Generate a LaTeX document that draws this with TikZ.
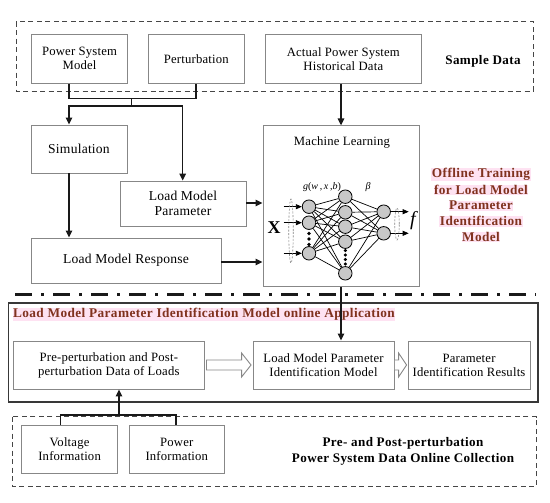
\documentclass[tikz,border=0pt]{standalone}
\usepackage{fontspec}
\setmainfont{Liberation Serif}
\newfontfamily\boldsp[LetterSpace=3]{Liberation Serif}
\newfontfamily\regsp[LetterSpace=1.5]{Liberation Serif}
\usetikzlibrary{arrows.meta,shapes.geometric,calc}
\definecolor{boxgray}{RGB}{135,135,135}
\definecolor{conncol}{RGB}{25,25,25}
\definecolor{dashcol}{RGB}{70,70,70}
\definecolor{redtxt}{RGB}{128,50,30}
\definecolor{pinkbg}{RGB}{254,226,242}
\definecolor{neurfill}{RGB}{200,200,200}
\tikzset{
  box/.style={draw=boxgray, line width=0.9pt, fill=white, align=center, inner sep=1pt,
    font=\regsp\fontsize{12.7}{14}\selectfont},
  bigbox/.style={box, font=\regsp\fontsize{13.6}{15}\selectfont},
  dashbox/.style={draw=dashcol, line width=0.9pt, dash pattern=on 5pt off 3.5pt},
  conn/.style={draw=conncol, line width=1.4pt},
  arr/.style={conn, -{Triangle[length=7pt,width=6.5pt]}},
  hollow/.style={draw=boxgray, line width=0.9pt, fill=white, line join=miter},
  boldlbl/.style={font=\boldsp\fontsize{13.1}{16.5}\selectfont\bfseries, align=center, inner sep=0pt},
  redlbl/.style={font=\boldsp\fontsize{13.3}{15.5}\selectfont\bfseries, text=redtxt, fill=pinkbg, inner sep=0.6pt},
  neuron/.style={circle, draw=black, line width=0.8pt, fill=neurfill, minimum size=13.5pt, inner sep=0pt},
  nnline/.style={draw=black, line width=0.7pt},
  nnarr/.style={draw=black, line width=0.8pt, -{Triangle[length=6pt,width=5pt]}},
  thindash/.style={ellipse, draw=boxgray, line width=0.6pt, dash pattern=on 2pt off 1.5pt, inner sep=0pt},
}
\begin{document}
\begin{tikzpicture}[x=1pt,y=-1pt]
\useasboundingbox[fill=white] (0,0) rectangle (550,503);

% ---------- Sample data ----------
\draw[dashbox] (16,21.7) rectangle (533.3,91);
\node[box, minimum width=95.6pt, minimum height=49.3pt] (psm) at (79.5,58.7) {Power System\\Model};
\node[box, minimum width=96pt, minimum height=49.3pt] (pert) at (196.3,58.7) {Perturbation};
\node[box, minimum width=156.7pt, minimum height=49.3pt] (act) at (343.3,58.7) {Actual Power System\\Historical Data};
\node[boldlbl] (sdl) at (483,61) {Sample Data};

% ---------- middle ----------
\node[bigbox, minimum width=96pt, minimum height=48pt] (sim) at (79,149) {Simulation};
\node[bigbox, minimum width=126pt, minimum height=45pt] (lmp) at (183,203.5) {Load Model\\Parameter};
\node[bigbox, minimum width=190pt, minimum height=45pt] (lmr) at (126,260.5) {Load Model Response};
\node[box, minimum width=156pt, minimum height=161pt] (ml) at (341,206.3) {};
\node[font=\regsp\fontsize{12.7}{14}\selectfont] (mlt) at (342,142) {Machine Learning};

% offline training label
\node[redlbl] (off1) at (481,174.3) {Offline Training};
\node[redlbl] (off2) at (481,190) {for Load Model};
\node[redlbl] (off3) at (481,205.6) {Parameter};
\node[redlbl] (off4) at (481,221.2) {Identification};
\node[redlbl] (off5) at (481,236.8) {Model};

% connectors top
\coordinate (pl) at (69,98.3);
\coordinate (pr) at (196,98.3);
\coordinate (pm) at (131.7,98.3);
\coordinate (pmb) at (131.7,106);
\coordinate (sl) at (69,106);
\coordinate (sr) at (182.7,106);
\draw[conn] (psm.south -| pl) -- (pl) -- (pr) -- (pert.south -| pr);
\draw[conn] (pm) -- (pmb);
\draw[arr] (pmb) -- (sl) -- (sim.north -| sl);
\draw[arr] (pmb) -- (sr) -- (lmp.north -| sr);
\draw[arr] (act.south -| ml.north) -- (ml.north);
\draw[arr] (sim.south -| sl) -- (lmr.north -| sl);
\coordinate (lmpy) at (246,203);
\coordinate (lmry) at (221,262);
\draw[arr] (lmp.east |- lmpy) -- (ml.west |- lmpy);
\draw[arr] (lmr.east |- lmry) -- (ml.west |- lmry);

% ---------- neural net ----------
\foreach \i/\yy in {1/206.7,2/222.7,3/253.3} \node[neuron] (in\i) at (309,\yy) {};
\foreach \i/\yy in {1/196.7,2/212.3,3/226.7,4/241.7,5/273.3} \node[neuron] (h\i) at (345.3,\yy) {};
\foreach \i/\yy in {1/211.7,2/233.3} \node[neuron] (o\i) at (383.7,\yy) {};
\foreach \i in {1,2,3} \foreach \j in {1,...,5} \draw[nnline] (in\i) -- (h\j);
\foreach \j in {1,...,5} \foreach \k in {1,2} \draw[nnline] (h\j) -- (o\k);
\foreach \yy in {233.5,239,244.5} \fill (309,\yy) circle (1.8pt);
\foreach \yy in {250.5,255,259.5,264} \fill (345.3,\yy) circle (1.7pt);
\foreach \i/\yy in {1/206.7,2/222.7,3/253.3} {
  \coordinate (xi\i) at (283.7,\yy);
  \draw[nnarr] (xi\i) -- (in\i);
}
\foreach \i/\yy in {1/211.7,2/233.3} {
  \coordinate (yo\i) at (408.7,\yy);
  \draw[nnarr] (o\i) -- (yo\i);
}
\node[thindash, minimum width=4.5pt, minimum height=64pt] (ein) at (291,231) {};
\node[thindash, minimum width=4.5pt, minimum height=32pt] (eout) at (397,224) {};
\node[font=\fontsize{18}{18}\selectfont\bfseries, inner sep=0pt] (xl) at (274,228) {X};
\node[font=\fontsize{20}{20}\selectfont\itshape, inner sep=0pt] (fl) at (413,221) {f};
\node[font=\fontsize{10}{10}\selectfont, inner sep=0pt] (gl) at (322,187) {\textit{g}(\textit{w}\,,\,\textit{x}\,,\textit{b})};
\node[font=\fontsize{10}{10}\selectfont\itshape, inner sep=0pt] (bl) at (368,187) {β};

% ---------- separator ----------
\coordinate (dl) at (15,294.5);
\coordinate (dr) at (536,294.5);
\draw[line width=2.2pt, draw=conncol, dash pattern=on 17pt off 9pt on 3pt off 9pt] (dl) -- (dr);

% ---------- online application ----------
\draw[draw=dashcol!80!black, line width=1.1pt] (8.8,303) rectangle (538,402);
\node[redlbl, anchor=west] (apt) at (12.3,314.5) {Load Model Parameter Identification Model online Application};
\node[box, minimum width=190.5pt, minimum height=48pt] (pre) at (108.8,365) {Pre-perturbation and Post-\\perturbation Data of Loads};
\node[box, minimum width=141pt, minimum height=48pt] (lmpim) at (323.5,365) {Load Model Parameter\\Identification Model};
\node[box, minimum width=122pt, minimum height=48pt] (res) at (469,365) {Parameter\\Identification Results};
\draw[arr] (ml.south) -- (ml.south |- lmpim.north);

% hollow arrows
\draw[hollow] ($(pre.east)+(2,-5)$) -- ($(lmpim.west)+(-11,-5)$) -- ($(lmpim.west)+(-11,-12)$)
  -- ($(lmpim.west)+(-1.5,0)$) -- ($(lmpim.west)+(-11,12)$) -- ($(lmpim.west)+(-11,5)$)
  -- ($(pre.east)+(2,5)$) -- cycle;
\draw[hollow] ($(lmpim.east)+(0.5,-5)$) -- ($(res.west)+(-9,-5)$) -- ($(res.west)+(-9,-12)$)
  -- ($(res.west)+(-1,0)$) -- ($(res.west)+(-9,12)$) -- ($(res.west)+(-9,5)$)
  -- ($(lmpim.east)+(0.5,5)$);

% ---------- bottom collection ----------
\draw[dashbox] (12.3,416.5) rectangle (536.6,486);
\node[box, minimum width=95.8pt, minimum height=48pt] (volt) at (69.6,449) {Voltage\\Information};
\node[box, minimum width=95.5pt, minimum height=48pt] (pow) at (176.8,449) {Power\\Information};
\node[boldlbl] (colt) at (403,451.5) {Pre- and Post-perturbation\\Power System Data Online Collection};
\coordinate (bl1) at (60.3,415);
\coordinate (br1) at (176,415);
\coordinate (bm1) at (119,415);
\draw[conn] (volt.north -| bl1) -- (bl1) -- (br1) -- (pow.north -| br1);
\draw[arr] (bm1) -- (pre.south -| bm1);
\end{tikzpicture}
\end{document}
